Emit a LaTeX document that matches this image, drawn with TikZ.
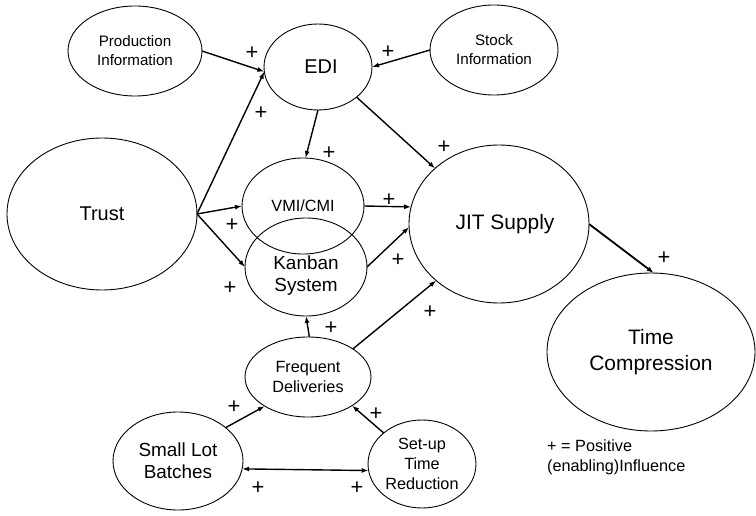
\documentclass[tikz,border=0pt]{standalone}
\usepackage{fontspec}
\setmainfont{Liberation Sans}
\usetikzlibrary{shapes.geometric,arrows.meta}
\begin{document}
\begin{tikzpicture}[x=1bp,y=-1bp,
 ell/.style={draw,ellipse,line width=0.9pt,inner sep=0pt,outer sep=0pt,align=center},
 arr/.style={line width=1.4pt,-{Latex[length=7pt,width=5pt]}},
 dbl/.style={line width=1.4pt,{Latex[length=7pt,width=5pt]}-{Latex[length=7pt,width=5pt]}},
 pl/.style={font=\fontsize{22}{22}\selectfont,inner sep=0pt},
 fbig/.style={font=\fontsize{20}{26}\selectfont},
 fmid/.style={font=\fontsize{19}{22}\selectfont},
 fsm/.style={font=\fontsize{16.3}{20}\selectfont},
 fxs/.style={font=\fontsize{15.2}{19}\selectfont}]
\useasboundingbox (0,0) rectangle (756,516);
\node[ell,fxs,minimum width=134bp,minimum height=90bp] (prod) at (135,51) {Production\\Information};
\node[ell,fbig,minimum width=108bp,minimum height=86bp] (edi) at (318,67) {\hspace*{6bp}EDI};
\node[ell,fxs,minimum width=128bp,minimum height=90bp] (stock) at (494,50) {Stock\\Information};
\node[ell,fbig,minimum width=190bp,minimum height=152bp] (trust) at (102,214) {Trust};
\node[ell,fsm,minimum width=122bp,minimum height=96bp] (vmi) at (303,206) {VMI/CMI};
\node[ell,minimum width=122bp,minimum height=98bp,
  label={[fmid,align=center,yshift=-9bp]center:Kanban\\System}] (kan) at (306,267) {};
\node[ell,font=\fontsize{21}{26}\selectfont,minimum width=180bp,minimum height=158bp] (jit) at (499,224) {\hspace*{12bp}JIT Supply};
\node[ell,font=\fontsize{21}{26}\selectfont,minimum width=208bp,minimum height=158bp] (time) at (651,352) {Time\\Compression};
\node[ell,fsm,minimum width=126bp,minimum height=80bp] (freq) at (308,377) {Frequent\\Deliveries};
\node[ell,fmid,minimum width=130bp,minimum height=98bp] (small) at (178,461) {Small Lot\\Batches};
\node[ell,fsm,minimum width=108bp,minimum height=88bp] (setup) at (422,464) {Set-up\\Time\\Reduction};
\node[fsm,align=left,anchor=west,inner sep=0pt] (legend) at (547,457) {+ = Positive\\(enabling)Influence};

\draw[arr] (prod.east) -- (edi.185);
\draw[arr] (stock.west) -- (edi.0);
\draw[arr] (trust.east) -- (edi.185);
\draw[arr] (edi.south) -- (vmi.87);
\draw[arr] (edi.-38) -- (jit.139);
\draw[arr] (trust.east) -- (vmi.west);
\draw[arr] (trust.east) -- (kan.west);
\draw[arr] (vmi.east) -- (jit.169);
\draw[arr] (kan.east) -- (jit.182);
\draw[arr] (freq.88) -- (kan.south);
\draw[arr] (freq.32) -- (jit.222);
\draw[arr] (small.35) -- (freq.214);
\draw[arr] (setup.141) -- (freq.-33);
\draw[dbl] (small.-7) -- (setup.187);
\draw[arr,line width=1.8pt] (jit.east) -- (time.88);

\node[pl] (p1) at (252,53) {+};
\node[pl] (p2) at (261,113) {+};
\node[pl] (p3) at (329,153) {+};
\node[pl] (p4) at (388,52) {+};
\node[pl] (p5) at (444,147) {+};
\node[pl] (p6) at (389,200) {+};
\node[pl] (p7) at (232,225) {+};
\node[pl] (p8) at (230,288) {+};
\node[pl] (p9) at (398,260) {+};
\node[pl] (p10) at (331,328) {+};
\node[pl] (p11) at (430,312) {+};
\node[pl] (p12) at (234,407) {+};
\node[pl] (p13) at (376,414) {+};
\node[pl] (p14) at (258,488) {+};
\node[pl] (p15) at (357,488) {+};
\node[pl] (p16) at (664,258) {+};
\end{tikzpicture}
\end{document}
